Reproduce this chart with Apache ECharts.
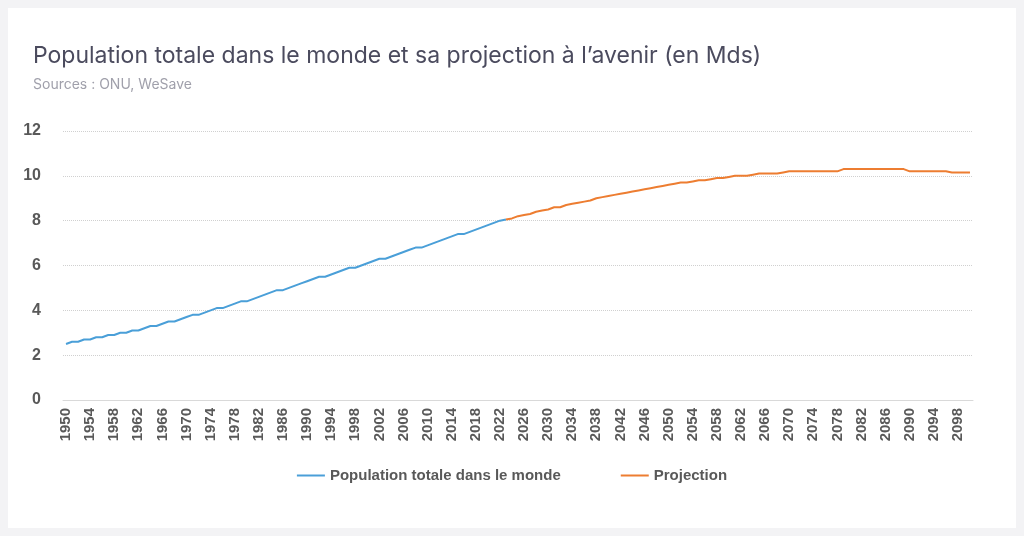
<!DOCTYPE html>
<html>
<head>
<meta charset="utf-8">
<script src="https://cdn.jsdelivr.net/npm/echarts@6/dist/echarts.min.js"></script>
<style>
  html, body { margin: 0; padding: 0; background: #f3f3f5; }
  #chart { position: absolute; left: 8px; top: 8px; width: 1008px; height: 520px; background: #fff; }
</style>
</head>
<body>
<div id="chart"></div>
<script>
// années 1950 -> 2100
var years = [];
for (var y = 1950; y <= 2100; y++) years.push(String(y));

// population mondiale observée, 1950-2023 (Mds)
var population = [
    2.5, 2.6, 2.6, 2.7, 2.7, 2.8, 2.8, 2.9, 2.9, 3.0,
    3.0, 3.1, 3.1, 3.2, 3.3, 3.3, 3.4, 3.5, 3.5, 3.6,
    3.7, 3.8, 3.8, 3.9, 4.0, 4.1, 4.1, 4.2, 4.3, 4.4,
    4.4, 4.5, 4.6, 4.7, 4.8, 4.9, 4.9, 5.0, 5.1, 5.2,
    5.3, 5.4, 5.5, 5.5, 5.6, 5.7, 5.8, 5.9, 5.9, 6.0,
    6.1, 6.2, 6.3, 6.3, 6.4, 6.5, 6.6, 6.7, 6.8, 6.8,
    6.9, 7.0, 7.1, 7.2, 7.3, 7.4, 7.4, 7.5, 7.6, 7.7,
    7.8, 7.9, 8.0, 8.05
];

// projection, 2023-2100 (Mds)
var projection = [
    8.05, 8.1, 8.2, 8.25, 8.3, 8.4, 8.45,
    8.5, 8.6, 8.6, 8.7, 8.75, 8.8, 8.85, 8.9, 9.0, 9.05,
    9.1, 9.15, 9.2, 9.25, 9.3, 9.35, 9.4, 9.45, 9.5, 9.55,
    9.6, 9.65, 9.7, 9.7, 9.75, 9.8, 9.8, 9.85, 9.9, 9.9,
    9.95, 10.0, 10.0, 10.0, 10.05, 10.1, 10.1, 10.1, 10.1, 10.15,
    10.2, 10.2, 10.2, 10.2, 10.2, 10.2, 10.2, 10.2, 10.2, 10.3,
    10.3, 10.3, 10.3, 10.3, 10.3, 10.3, 10.3, 10.3, 10.3, 10.3,
    10.2, 10.2, 10.2, 10.2, 10.2, 10.2, 10.2, 10.15, 10.15, 10.15,
    10.15
];

var yTicks = [0, 2, 4, 6, 8, 10, 12];

var popSerie = years.map(function (y, i) { return i < population.length ? population[i] : null; });
var projStart = 2023 - 1950;
var projSerie = years.map(function (y, i) { return i >= projStart ? projection[i - projStart] : null; });

var chart = echarts.init(document.getElementById('chart'));
var option = {
    animation: false,
    title: {
        text: 'Population totale dans le monde et sa projection à l’avenir (en Mds)',
        subtext: 'Sources : ONU, WeSave',
        left: 20, top: 32,
        itemGap: 10,
        textStyle: { fontFamily: 'Inter', fontSize: 23, fontWeight: 'normal', color: '#4b4b5e' },
        subtextStyle: { fontFamily: 'Inter', fontSize: 14, color: '#a0a0ab' }
    },
    legend: {
        bottom: 40,
        itemWidth: 28, itemHeight: 2, itemGap: 60,
        icon: 'rect',
        textStyle: { fontFamily: 'Arial', fontSize: 15, fontWeight: 'bold', color: '#595959' },
        data: ['Population totale dans le monde', 'Projection']
    },
    grid: { left: 55, right: 43, top: 123, bottom: 128 },
    xAxis: {
        type: 'category',
        data: years,
        boundaryGap: true,
        axisLine: { lineStyle: { color: '#d9d9d9' } },
        axisTick: { show: false },
        axisLabel: {
            interval: 3, rotate: 90,
            fontFamily: 'Arial', fontSize: 15, fontWeight: 'bold', color: '#595959'
        }
    },
    yAxis: {
        type: 'value',
        min: yTicks[0], max: yTicks[yTicks.length - 1], interval: 2,
        axisLine: { show: false },
        axisLabel: { fontFamily: 'Arial', fontSize: 16, fontWeight: 'bold', color: '#595959', margin: 22 },
        splitLine: { lineStyle: { color: '#d0d0d0', type: 'dotted' } }
    },
    series: [
        {
            name: 'Population totale dans le monde', type: 'line', data: popSerie,
            showSymbol: false, color: '#4a9fd8', lineStyle: { width: 2 }
        },
        {
            name: 'Projection', type: 'line', data: projSerie,
            showSymbol: false, color: '#ed7d31', lineStyle: { width: 2 }
        }
    ]
};
chart.setOption(option);
</script>
</body>
</html>
